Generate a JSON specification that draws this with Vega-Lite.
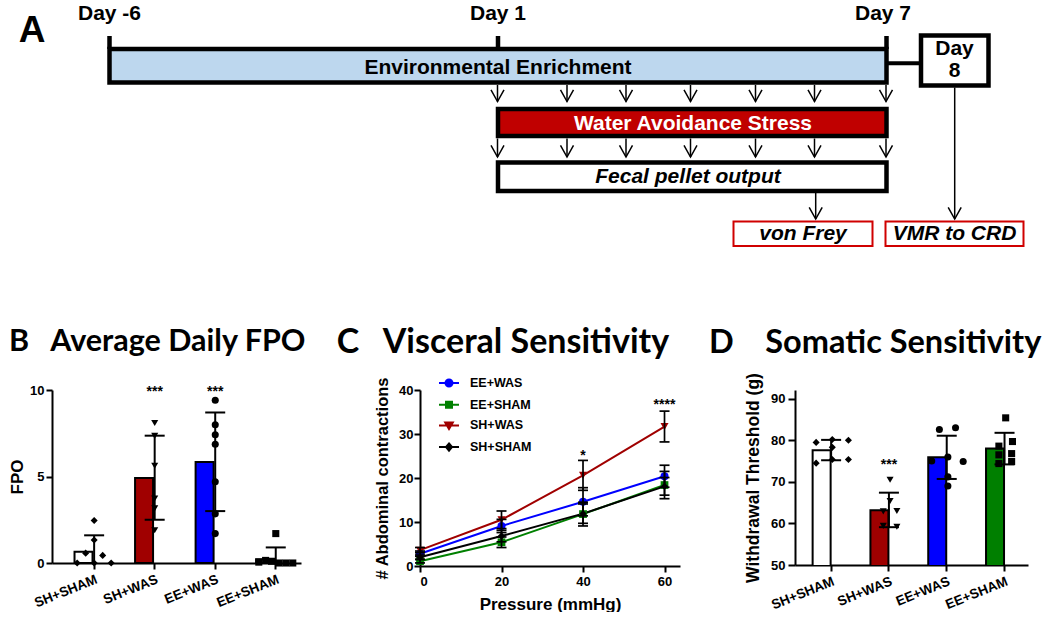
{
"$schema": "https://vega.github.io/schema/vega-lite/v6.json",
"padding": {"left": 8, "top": 0, "right": 0, "bottom": 0},
"background": "white",
"spacing": 76,
"resolve": {"scale": {"fill": "independent", "shape": "independent", "color": "independent", "stroke": "independent"}, "legend": {"fill": "independent", "shape": "independent", "color": "independent", "stroke": "independent"}},
"config": {
  "view": {"stroke": null},
  "font": "Liberation Sans",
  "axis": {"domainColor": "black", "domainWidth": 2, "tickColor": "black", "tickWidth": 2, "tickSize": 6, "labelColor": "black", "labelFont": "Liberation Sans", "labelFontWeight": "bold", "labelFontSize": 13, "titleColor": "black", "titleFont": "Liberation Sans", "titleFontWeight": "bold", "titleFontSize": 17, "grid": false}
},
"datasets": {
  "tlTicks": [{"x": 110.5, "y": 36, "y2": 49}, {"x": 499, "y": 36, "y2": 49}, {"x": 887.5, "y": 36, "y2": 49}],
  "tlLink": [{"x": 887.5, "x2": 922, "y": 63.3}],
  "tlBoxes": [
    {"kind": "EE", "x": 110.5, "x2": 887.5, "y": 49, "y2": 82.5},
    {"kind": "WAS", "x": 499, "x2": 887.5, "y": 109, "y2": 136},
    {"kind": "FPO", "x": 499, "x2": 887.5, "y": 162.5, "y2": 191},
    {"kind": "Day8", "x": 922, "x2": 989.5, "y": 35.5, "y2": 85.5}
  ],
  "tlReadouts": [{"x": 734.5, "x2": 873.5, "y": 221.5, "y2": 246}, {"x": 886.5, "x2": 1024.5, "y": 221.5, "y2": 246}],
  "tlArrows": [
    {"x": 498.5, "y": 85, "y2": 101.5}, {"x": 568, "y": 85, "y2": 101.5}, {"x": 627, "y": 85, "y2": 101.5}, {"x": 691.5, "y": 85, "y2": 101.5}, {"x": 756.5, "y": 85, "y2": 101.5}, {"x": 815.5, "y": 85, "y2": 101.5}, {"x": 887, "y": 85, "y2": 101.5},
    {"x": 498.5, "y": 138.5, "y2": 157}, {"x": 568, "y": 138.5, "y2": 157}, {"x": 627, "y": 138.5, "y2": 157}, {"x": 691.5, "y": 138.5, "y2": 157}, {"x": 756.5, "y": 138.5, "y2": 157}, {"x": 815.5, "y": 138.5, "y2": 157}, {"x": 887, "y": 138.5, "y2": 157},
    {"x": 816.7, "y": 193, "y2": 219}, {"x": 955.7, "y": 87.5, "y2": 219}
  ],
  "tlText": [
    {"t": "Day -6", "x": 110.5, "y": 20}, {"t": "Day 1", "x": 499, "y": 20}, {"t": "Day 7", "x": 884, "y": 20},
    {"t": "Environmental Enrichment", "x": 499, "y": 74}, {"t": "Day", "x": 955.5, "y": 55}, {"t": "8", "x": 955.5, "y": 77}
  ],
  "tlTextWhite": [{"t": "Water Avoidance Stress", "x": 694, "y": 130}],
  "tlTextItalic": [{"t": "Fecal pellet output", "x": 689, "y": 183}, {"t": "von Frey", "x": 804, "y": 240}, {"t": "VMR to CRD", "x": 955.5, "y": 240}],
  "panelLetter": [{"t": "A", "x": 33, "y": 42}],
  "fpoBars": [
    {"g": "SH+SHAM", "m": 0.65, "lo": -0.3, "hi": 1.6},
    {"g": "SH+WAS", "m": 4.92, "lo": 2.5, "hi": 7.36},
    {"g": "EE+WAS", "m": 5.84, "lo": 3.0, "hi": 8.7},
    {"g": "EE+SHAM", "m": 0.22, "lo": -0.5, "hi": 0.9}
  ],
  "fpoPts": [
    {"g": "SH+SHAM", "v": 0, "dx": -2}, {"g": "SH+SHAM", "v": 0, "dx": 0}, {"g": "SH+SHAM", "v": 0, "dx": 2}, {"g": "SH+SHAM", "v": 0.57, "dx": -1}, {"g": "SH+SHAM", "v": 0.44, "dx": 1}, {"g": "SH+SHAM", "v": 1.33, "dx": 0}, {"g": "SH+SHAM", "v": 2.46, "dx": 0},
    {"g": "SH+WAS", "v": 8.09, "dx": 0}, {"g": "SH+WAS", "v": 7.35, "dx": 0}, {"g": "SH+WAS", "v": 5.62, "dx": 0}, {"g": "SH+WAS", "v": 3.73, "dx": 0}, {"g": "SH+WAS", "v": 3.16, "dx": 0}, {"g": "SH+WAS", "v": 1.89, "dx": 0},
    {"g": "EE+WAS", "v": 9.41, "dx": 0}, {"g": "EE+WAS", "v": 7.99, "dx": 0}, {"g": "EE+WAS", "v": 7.41, "dx": 0}, {"g": "EE+WAS", "v": 6.86, "dx": 0}, {"g": "EE+WAS", "v": 4.70, "dx": 0}, {"g": "EE+WAS", "v": 2.84, "dx": 0}, {"g": "EE+WAS", "v": 1.70, "dx": 0},
    {"g": "EE+SHAM", "v": 1.7, "dx": 0}, {"g": "EE+SHAM", "v": 0.05, "dx": -2}, {"g": "EE+SHAM", "v": 0.15, "dx": -1.2}, {"g": "EE+SHAM", "v": 0.1, "dx": -0.5}, {"g": "EE+SHAM", "v": 0, "dx": 0.4}, {"g": "EE+SHAM", "v": 0, "dx": 1.2}, {"g": "EE+SHAM", "v": 0, "dx": 2}
  ],
  "fpoStars": [{"g": "SH+WAS", "v": 9.65, "t": "***"}, {"g": "EE+WAS", "v": 9.65, "t": "***"}],
  "vmr": [
    {"g": "EE+WAS", "p": 0, "m": 2.8, "lo": 2.2, "hi": 3.4}, {"g": "EE+WAS", "p": 20, "m": 9.1, "lo": 7.6, "hi": 10.6}, {"g": "EE+WAS", "p": 40, "m": 14.6, "lo": 11.4, "hi": 17.8}, {"g": "EE+WAS", "p": 60, "m": 20.4, "lo": 17.9, "hi": 22.9},
    {"g": "EE+SHAM", "p": 0, "m": 1.1, "lo": 0.7, "hi": 1.5}, {"g": "EE+SHAM", "p": 20, "m": 5.4, "lo": 4.2, "hi": 6.6}, {"g": "EE+SHAM", "p": 40, "m": 11.8, "lo": 9.1, "hi": 14.5}, {"g": "EE+SHAM", "p": 60, "m": 18.4, "lo": 15.3, "hi": 21.5},
    {"g": "SH+WAS", "p": 0, "m": 3.6, "lo": 3.0, "hi": 4.2}, {"g": "SH+WAS", "p": 20, "m": 10.5, "lo": 8.5, "hi": 12.5}, {"g": "SH+WAS", "p": 40, "m": 20.6, "lo": 17.2, "hi": 24.0}, {"g": "SH+WAS", "p": 60, "m": 31.7, "lo": 28.2, "hi": 35.2},
    {"g": "SH+SHAM", "p": 0, "m": 2.0, "lo": 1.5, "hi": 2.5}, {"g": "SH+SHAM", "p": 20, "m": 6.8, "lo": 5.5, "hi": 8.1}, {"g": "SH+SHAM", "p": 40, "m": 11.9, "lo": 9.7, "hi": 14.1}, {"g": "SH+SHAM", "p": 60, "m": 18.1, "lo": 16.1, "hi": 20.1}
  ],
  "vmrStars": [{"p": 40, "v": 24.0, "t": "*"}, {"p": 60, "v": 35.7, "t": "****"}],
  "vfBars": [
    {"g": "SH+SHAM", "m": 77.6, "lo": 75.2, "hi": 80.1},
    {"g": "SH+WAS", "m": 63.2, "lo": 59.1, "hi": 67.4},
    {"g": "EE+WAS", "m": 75.9, "lo": 70.7, "hi": 81.1},
    {"g": "EE+SHAM", "m": 78.0, "lo": 74.2, "hi": 81.8}
  ],
  "vfPts": [
    {"g": "SH+SHAM", "v": 79.5, "dx": -1.9}, {"g": "SH+SHAM", "v": 80.2, "dx": 0}, {"g": "SH+SHAM", "v": 80.0, "dx": 1.9}, {"g": "SH+SHAM", "v": 78.3, "dx": 0}, {"g": "SH+SHAM", "v": 74.5, "dx": -1.9}, {"g": "SH+SHAM", "v": 75.4, "dx": 0}, {"g": "SH+SHAM", "v": 75.4, "dx": 1.9},
    {"g": "SH+WAS", "v": 70.5, "dx": 0}, {"g": "SH+WAS", "v": 65.4, "dx": 0}, {"g": "SH+WAS", "v": 62.9, "dx": -0.8}, {"g": "SH+WAS", "v": 63.0, "dx": 0.8}, {"g": "SH+WAS", "v": 59.4, "dx": -0.8}, {"g": "SH+WAS", "v": 59.2, "dx": 0.8},
    {"g": "EE+WAS", "v": 82.6, "dx": -1}, {"g": "EE+WAS", "v": 83.0, "dx": 0.9}, {"g": "EE+WAS", "v": 76.0, "dx": 0}, {"g": "EE+WAS", "v": 75.0, "dx": -1.9}, {"g": "EE+WAS", "v": 74.9, "dx": 1.8}, {"g": "EE+WAS", "v": 71.2, "dx": 0}, {"g": "EE+WAS", "v": 69.0, "dx": 0},
    {"g": "EE+SHAM", "v": 85.4, "dx": 0}, {"g": "EE+SHAM", "v": 78.6, "dx": -0.8}, {"g": "EE+SHAM", "v": 79.7, "dx": 0.8}, {"g": "EE+SHAM", "v": 76.5, "dx": -0.8}, {"g": "EE+SHAM", "v": 76.8, "dx": 0.7}, {"g": "EE+SHAM", "v": 74.4, "dx": -0.8}, {"g": "EE+SHAM", "v": 74.9, "dx": 0.7}
  ],
  "vfStars": [{"g": "SH+WAS", "v": 73.0, "t": "***"}]
},
"vconcat": [
  {
    "width": 997, "height": 250,
    "encoding": {
      "x": {"field": "x", "type": "quantitative", "scale": {"domain": [53, 1050], "nice": false, "zero": false}, "axis": null},
      "y": {"field": "y", "type": "quantitative", "scale": {"domain": [0, 250], "nice": false, "reverse": true}, "axis": null}
    },
    "layer": [
      {"data": {"name": "tlTicks"}, "mark": {"type": "rule", "strokeWidth": 4.5, "color": "black"}, "encoding": {"y2": {"field": "y2"}}},
      {"data": {"name": "tlLink"}, "mark": {"type": "rule", "strokeWidth": 4, "color": "black"}, "encoding": {"x2": {"field": "x2"}}},
      {"data": {"name": "tlBoxes"}, "mark": {"type": "rect", "stroke": "black", "strokeWidth": 4.5}, "encoding": {"x2": {"field": "x2"}, "y2": {"field": "y2"}, "fill": {"field": "kind", "type": "nominal", "scale": {"domain": ["EE", "WAS", "FPO", "Day8"], "range": ["#BDD7EE", "#C00000", "white", "white"]}, "legend": null}}},
      {"data": {"name": "tlReadouts"}, "mark": {"type": "rect", "stroke": "#D00000", "strokeWidth": 2, "fill": "white"}, "encoding": {"x2": {"field": "x2"}, "y2": {"field": "y2"}}},
      {"data": {"name": "tlArrows"}, "mark": {"type": "rule", "strokeWidth": 1.5, "color": "black"}, "encoding": {"y2": {"field": "y2"}}},
      {"data": {"name": "tlArrows"}, "mark": {"type": "point", "shape": "M-1,-1.8L0,0L1,-1.8", "size": 169, "filled": false, "fill": null, "stroke": "black", "strokeWidth": 1.5, "opacity": 1}, "encoding": {"y": {"field": "y2", "type": "quantitative", "scale": {"domain": [0, 250], "nice": false, "reverse": true}, "axis": null}}},
      {"data": {"name": "tlText"}, "mark": {"type": "text", "font": "Liberation Sans", "fontWeight": "bold", "fontSize": 21, "color": "black", "baseline": "alphabetic", "align": "center"}, "encoding": {"text": {"field": "t"}}},
      {"data": {"name": "tlTextWhite"}, "mark": {"type": "text", "font": "Liberation Sans", "fontWeight": "bold", "fontSize": 21, "color": "white", "baseline": "alphabetic", "align": "center"}, "encoding": {"text": {"field": "t"}}},
      {"data": {"name": "tlTextItalic"}, "mark": {"type": "text", "font": "Liberation Sans", "fontWeight": "bold", "fontStyle": "italic", "fontSize": 21, "color": "black", "baseline": "alphabetic", "align": "center"}, "encoding": {"text": {"field": "t"}}},
      {"data": {"name": "panelLetter"}, "mark": {"type": "text", "font": "Liberation Sans", "fontWeight": "bold", "fontSize": 37, "color": "black", "baseline": "alphabetic", "align": "center"}, "encoding": {"text": {"field": "t"}}}
    ]
  },
  {
    "spacing": 29,
    "resolve": {"scale": {"fill": "independent", "shape": "independent", "color": "independent", "stroke": "independent"}, "legend": {"fill": "independent", "shape": "independent", "color": "independent", "stroke": "independent"}},
    "hconcat": [
      {
        "width": 249, "height": 173,
        "title": {"text": "B\u00a0\u00a0\u00a0Average Daily FPO\u00a0", "anchor": "start", "frame": "group", "dx": -43, "offset": 3, "baseline": "alphabetic", "font": "Lato", "fontSize": 30.5, "fontWeight": "bold", "color": "black"},
        "encoding": {"x": {"field": "g", "type": "nominal", "sort": ["SH+SHAM", "SH+WAS", "EE+WAS", "EE+SHAM"], "scale": {"domain": ["SH+SHAM", "SH+WAS", "EE+WAS", "EE+SHAM"], "paddingInner": 0.352, "paddingOuter": 0.2325, "align": 0.8}, "axis": {"title": null, "labelAngle": -22, "labelAlign": "right", "labelBaseline": "top", "labelPadding": 3, "labelFontSize": 13.5}}},
        "layer": [
          {"data": {"name": "fpoBars"}, "mark": {"type": "bar", "stroke": "black", "strokeWidth": 2}, "encoding": {"y": {"field": "m", "type": "quantitative", "scale": {"domain": [0, 10], "nice": false}, "axis": {"values": [0, 5, 10], "title": "FPO", "titlePadding": 3.5, "labelPadding": 2}}, "fill": {"field": "g", "type": "nominal", "scale": {"domain": ["SH+SHAM", "SH+WAS", "EE+WAS", "EE+SHAM"], "range": ["white", "#A00000", "#0000FF", "white"]}, "legend": null}}},
          {"data": {"name": "fpoBars"}, "mark": {"type": "rule", "color": "black", "strokeWidth": 2, "clip": true}, "encoding": {"y": {"field": "lo", "type": "quantitative", "scale": {"domain": [0, 10], "nice": false}}, "y2": {"field": "hi"}}},
          {"data": {"name": "fpoBars"}, "mark": {"type": "tick", "orient": "horizontal", "size": 20, "thickness": 2, "color": "black", "opacity": 1, "clip": true}, "encoding": {"y": {"field": "hi", "type": "quantitative", "scale": {"domain": [0, 10], "nice": false}}}},
          {"data": {"name": "fpoBars"}, "mark": {"type": "tick", "orient": "horizontal", "size": 20, "thickness": 2, "color": "black", "opacity": 1, "clip": true}, "encoding": {"y": {"field": "lo", "type": "quantitative", "scale": {"domain": [0, 10], "nice": false}}}},
          {"data": {"name": "fpoPts"}, "mark": {"type": "point", "filled": true, "color": "black", "size": 50, "opacity": 1}, "encoding": {"y": {"field": "v", "type": "quantitative", "scale": {"domain": [0, 10], "nice": false}}, "shape": {"field": "g", "type": "nominal", "scale": {"domain": ["SH+SHAM", "SH+WAS", "EE+WAS", "EE+SHAM"], "range": ["diamond", "triangle-down", "circle", "square"]}, "legend": null}, "xOffset": {"field": "dx", "type": "quantitative", "scale": {"domain": [-3, 3], "range": [-5.85, 45.15]}}}},
          {"data": {"name": "fpoStars"}, "mark": {"type": "text", "font": "Liberation Sans", "fontWeight": "bold", "fontSize": 14, "baseline": "alphabetic", "color": "black"}, "encoding": {"y": {"field": "v", "type": "quantitative", "scale": {"domain": [0, 10], "nice": false}}, "text": {"field": "t"}}}
        ]
      },
      {
        "width": 260, "height": 176,
        "title": {"text": "C\u00a0\u00a0\u00a0Visceral Sensitivity", "anchor": "start", "frame": "group", "dx": -83.3, "offset": -15, "baseline": "alphabetic", "font": "Lato", "fontSize": 34, "fontWeight": "bold", "color": "black"},
        "encoding": {"x": {"field": "p", "type": "quantitative", "scale": {"domain": [0, 63.8], "nice": false, "zero": false}, "axis": {"values": [0, 20, 40, 60], "title": "Pressure (mmHg)", "titlePadding": 8, "labelPadding": 3}}},
        "layer": [
          {"data": {"name": "vmr"}, "mark": {"type": "line", "strokeWidth": 2}, "encoding": {"y": {"field": "m", "type": "quantitative", "scale": {"domain": [0, 40], "nice": false}, "axis": {"values": [0, 10, 20, 30, 40], "title": "# Abdominal contractions", "titleFontSize": 16.5, "titlePadding": 8, "labelPadding": 1}}, "color": {"field": "g", "type": "nominal", "scale": {"domain": ["EE+WAS", "EE+SHAM", "SH+WAS", "SH+SHAM"], "range": ["#0000FF", "#008000", "#A00000", "#000000"]}, "legend": {"title": null, "orient": "none", "legendX": 18, "legendY": -18, "symbolSize": 400, "symbolStrokeWidth": 2, "symbolType": "M-1,0H1", "labelFont": "Liberation Sans", "labelFontWeight": "bold", "labelFontSize": 12.5, "labelColor": "black", "labelOffset": 10, "rowPadding": 2.7, "padding": 0, "encode": {"symbols": {"update": {"shape": {"signal": "datum.value === 'EE+WAS' ? 'M-1,0H1M0.35,0A0.35,0.35,0,1,1,-0.35,0A0.35,0.35,0,1,1,0.35,0Z' : datum.value === 'EE+SHAM' ? 'M-1,0H1M-0.3,-0.3H0.3V0.3H-0.3Z' : datum.value === 'SH+WAS' ? 'M-1,0H1M-0.38,-0.3H0.38L0,0.36Z' : 'M-1,0H1M0,-0.36L0.3,0L0,0.36L-0.3,0Z'"}, "fill": {"signal": "datum.value === 'EE+WAS' ? '#0000FF' : datum.value === 'EE+SHAM' ? '#008000' : datum.value === 'SH+WAS' ? '#A00000' : '#000000'"}, "fillOpacity": {"value": 1}, "opacity": {"value": 1}}}}}}}},
          {"data": {"name": "vmr"}, "transform": [{"filter": "datum.g === 'EE+WAS'"}], "mark": {"type": "point", "shape": "circle", "filled": true, "size": 65, "opacity": 1}, "encoding": {"y": {"field": "m", "type": "quantitative", "scale": {"domain": [0, 40], "nice": false}}, "color": {"field": "g", "type": "nominal"}}},
          {"data": {"name": "vmr"}, "transform": [{"filter": "datum.g === 'EE+SHAM'"}], "mark": {"type": "point", "shape": "square", "filled": true, "size": 60, "opacity": 1}, "encoding": {"y": {"field": "m", "type": "quantitative", "scale": {"domain": [0, 40], "nice": false}}, "color": {"field": "g", "type": "nominal"}}},
          {"data": {"name": "vmr"}, "transform": [{"filter": "datum.g === 'SH+WAS'"}], "mark": {"type": "point", "shape": "triangle-down", "filled": true, "size": 65, "opacity": 1}, "encoding": {"y": {"field": "m", "type": "quantitative", "scale": {"domain": [0, 40], "nice": false}}, "color": {"field": "g", "type": "nominal"}}},
          {"data": {"name": "vmr"}, "transform": [{"filter": "datum.g === 'SH+SHAM'"}], "mark": {"type": "point", "shape": "diamond", "filled": true, "size": 55, "opacity": 1}, "encoding": {"y": {"field": "m", "type": "quantitative", "scale": {"domain": [0, 40], "nice": false}}, "color": {"field": "g", "type": "nominal"}}},
          {"data": {"name": "vmr"}, "mark": {"type": "rule", "color": "black", "strokeWidth": 1.7}, "encoding": {"y": {"field": "lo", "type": "quantitative", "scale": {"domain": [0, 40], "nice": false}}, "y2": {"field": "hi"}}},
          {"data": {"name": "vmr"}, "mark": {"type": "tick", "orient": "horizontal", "size": 10, "thickness": 1.7, "color": "black", "opacity": 1}, "encoding": {"y": {"field": "hi", "type": "quantitative", "scale": {"domain": [0, 40], "nice": false}}}},
          {"data": {"name": "vmr"}, "mark": {"type": "tick", "orient": "horizontal", "size": 10, "thickness": 1.7, "color": "black", "opacity": 1}, "encoding": {"y": {"field": "lo", "type": "quantitative", "scale": {"domain": [0, 40], "nice": false}}}},
          {"data": {"name": "vmrStars"}, "mark": {"type": "text", "font": "Liberation Sans", "fontWeight": "bold", "fontSize": 14, "baseline": "alphabetic", "color": "black"}, "encoding": {"y": {"field": "v", "type": "quantitative", "scale": {"domain": [0, 40], "nice": false}}, "text": {"field": "t"}}}
        ]
      },
      {
        "width": 233, "height": 175,
        "title": {"text": "D\u00a0\u00a0\u00a0\u00a0Somatic Sensitivity", "anchor": "start", "frame": "group", "dx": -86, "offset": -12.6, "baseline": "alphabetic", "font": "Lato", "fontSize": 32.5, "fontWeight": "bold", "color": "black"},
        "encoding": {"x": {"field": "g", "type": "nominal", "sort": ["SH+SHAM", "SH+WAS", "EE+WAS", "EE+SHAM"], "scale": {"domain": ["SH+SHAM", "SH+WAS", "EE+WAS", "EE+SHAM"], "paddingInner": 0.36, "paddingOuter": 0.1955, "align": 0.78}, "axis": {"title": null, "labelAngle": -22, "labelAlign": "right", "labelBaseline": "top", "labelPadding": 3, "labelFontSize": 13.5}}},
        "layer": [
          {"data": {"name": "vfBars"}, "mark": {"type": "bar", "stroke": "black", "strokeWidth": 2, "clip": true}, "encoding": {"y": {"field": "m", "type": "quantitative", "scale": {"domain": [50, 92.1], "nice": false, "zero": false}, "axis": {"values": [50, 60, 70, 80, 90], "title": "Withdrawal Threshold (g)", "titleFontSize": 17.5, "titlePadding": 8, "labelPadding": 3, "tickSize": 7}}, "fill": {"field": "g", "type": "nominal", "scale": {"domain": ["SH+SHAM", "SH+WAS", "EE+WAS", "EE+SHAM"], "range": ["white", "#9E0000", "#0000FF", "#007F00"]}, "legend": null}}},
          {"data": {"name": "vfBars"}, "mark": {"type": "rule", "color": "black", "strokeWidth": 2}, "encoding": {"y": {"field": "lo", "type": "quantitative", "scale": {"domain": [50, 92.1], "nice": false, "zero": false}}, "y2": {"field": "hi"}}},
          {"data": {"name": "vfBars"}, "mark": {"type": "tick", "orient": "horizontal", "size": 20, "thickness": 2, "color": "black", "opacity": 1}, "encoding": {"y": {"field": "hi", "type": "quantitative", "scale": {"domain": [50, 92.1], "nice": false, "zero": false}}}},
          {"data": {"name": "vfBars"}, "mark": {"type": "tick", "orient": "horizontal", "size": 20, "thickness": 2, "color": "black", "opacity": 1}, "encoding": {"y": {"field": "lo", "type": "quantitative", "scale": {"domain": [50, 92.1], "nice": false, "zero": false}}}},
          {"data": {"name": "vfPts"}, "mark": {"type": "point", "filled": true, "color": "black", "size": 50, "opacity": 1}, "encoding": {"y": {"field": "v", "type": "quantitative", "scale": {"domain": [50, 92.1], "nice": false, "zero": false}}, "shape": {"field": "g", "type": "nominal", "scale": {"domain": ["SH+SHAM", "SH+WAS", "EE+WAS", "EE+SHAM"], "range": ["diamond", "triangle-down", "circle", "square"]}, "legend": null}, "xOffset": {"field": "dx", "type": "quantitative", "scale": {"domain": [-3, 3], "range": [-7, 44]}}}},
          {"data": {"name": "vfStars"}, "mark": {"type": "text", "font": "Liberation Sans", "fontWeight": "bold", "fontSize": 14, "baseline": "alphabetic", "color": "black"}, "encoding": {"y": {"field": "v", "type": "quantitative", "scale": {"domain": [50, 92.1], "nice": false, "zero": false}}, "text": {"field": "t"}}}
        ]
      }
    ]
  }
]
}
